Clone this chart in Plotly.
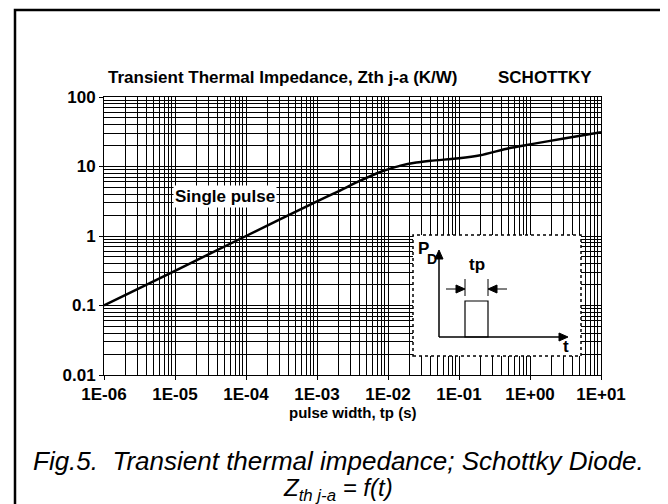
import plotly.graph_objects as go

# pulse width (s) and thermal impedance Zth j-a (K/W)
pulse_width = [1e-6, 1e-5, 1e-4, 1e-3, 2e-3, 4e-3, 7e-3, 1e-2, 1.5e-2, 2.5e-2,
               4e-2, 7e-2, 1e-1, 2e-1, 5e-1, 1.0, 3.0, 10.0]
zth = [0.1, 0.316, 1.0, 3.16, 4.4, 6.2, 8.0, 9.1, 10.3, 11.4,
       12.1, 12.7, 13.1, 14.5, 18.3, 20.8, 25.3, 31.0]

x_ticks = [1e-6, 1e-5, 1e-4, 1e-3, 1e-2, 1e-1, 1e0, 1e1]
x_labels = ["1E-06", "1E-05", "1E-04", "1E-03", "1E-02", "1E-01", "1E+00", "1E+01"]
y_ticks = [0.01, 0.1, 1, 10, 100]
y_labels = ["0.01", "0.1", "1", "10", "100"]

FONT = "Liberation Sans, Arial, sans-serif"
W, H = 668, 504
OFF = 8  # page offset of the figure inside the browser window
L, R, T, B = 104 - OFF, 601 - OFF, 97 - OFF, 375 - OFF  # plot area, figure pixels


def fx(px):
    # px measured on the page
    return (px - OFF - L) / (R - L)


def fy(py):
    return (B - (py - OFF)) / (B - T)


# minor grid positions (2..9 in every decade)
minor_x = [k * 10.0 ** e for e in range(-6, 1) for k in range(2, 10)]
minor_y = [k * 10.0 ** e for e in range(-2, 2) for k in range(2, 10)]

fig = go.Figure()
fig.add_trace(go.Scatter(x=pulse_width, y=zth, mode="lines",
                         line=dict(color="black", width=2.5, shape="spline", smoothing=0.6),
                         hoverinfo="x+y"))

axis_common = dict(
    type="log", showgrid=True, gridcolor="black", gridwidth=1,
    showline=True, linecolor="black", linewidth=1, mirror=True,
    ticks="outside", ticklen=4, tickcolor="black",
    tickfont=dict(family=FONT, size=17, color="black", weight="bold"),
    zeroline=False,
)
fig.update_xaxes(range=[-6, 1], tickvals=x_ticks, ticktext=x_labels,
                 minor=dict(tickvals=minor_x, showgrid=True, gridcolor="black", gridwidth=1, ticks=""),
                 **axis_common)
fig.update_yaxes(range=[-2, 2], tickvals=y_ticks, ticktext=y_labels,
                 minor=dict(tickvals=minor_y, showgrid=True, gridcolor="black", gridwidth=1, ticks=""),
                 **axis_common)

shapes = []
# outer frame (bottom edge lies below the picture)
shapes.append(dict(type="rect", xref="paper", yref="paper",
                   x0=fx(15), x1=fx(666), y0=fy(530), y1=fy(10),
                   line=dict(color="black", width=2.5), fillcolor="rgba(0,0,0,0)"))
# inset box
shapes.append(dict(type="rect", xref="paper", yref="paper",
                   x0=fx(413), x1=fx(581), y0=fy(356), y1=fy(235),
                   line=dict(color="black", width=1.5, dash="dot"), fillcolor="white"))


def seg(x0, y0, x1, y1, w=1.5):
    return dict(type="line", xref="paper", yref="paper",
                x0=fx(x0), y0=fy(y0), x1=fx(x1), y1=fy(y1),
                line=dict(color="black", width=w))


def tri(pts):
    path = "M " + " L ".join(f"{fx(a)},{fy(b)}" for a, b in pts) + " Z"
    return dict(type="path", xref="paper", yref="paper", path=path,
                fillcolor="black", line=dict(color="black", width=1))


# P_D and t axes
shapes.append(seg(439, 337, 439, 257))
shapes.append(tri([(439, 250), (435, 259), (443, 259)]))
shapes.append(seg(439, 337, 560, 337))
shapes.append(tri([(568, 337), (559, 333), (559, 341)]))
# pulse
shapes.append(dict(type="rect", xref="paper", yref="paper",
                   x0=fx(465), x1=fx(488), y0=fy(337), y1=fy(301),
                   line=dict(color="black", width=1.2)))
# tp markers
shapes.append(seg(465, 279, 465, 296, 1))
shapes.append(seg(488, 279, 488, 296, 1))
shapes.append(seg(446, 289, 457, 289, 1))
shapes.append(tri([(465, 289), (456, 285), (456, 293)]))
shapes.append(seg(507, 289, 497, 289, 1))
shapes.append(tri([(488, 289), (497, 285), (497, 293)]))

annotations = [
    dict(text="Transient Thermal Impedance, Zth j-a (K/W)", x=fx(106), y=fy(77),
         xanchor="left", font=dict(size=17, weight="bold")),
    dict(text="SCHOTTKY", x=fx(594), y=fy(77), xanchor="right", font=dict(size=17, weight="bold")),
    dict(text="Single pulse", x=fx(225), y=fy(196), bgcolor="white", borderpad=1,
         font=dict(size=17, weight="bold")),
    dict(text="pulse width, tp (s)", x=fx(353), y=fy(412), font=dict(size=15, weight="bold")),
    dict(text="<i>Fig.5.  Transient thermal impedance; Schottky Diode.</i>", x=fx(338), y=fy(461),
         font=dict(size=26)),
    dict(text="<i>Z<sub>th j-a</sub> = f(t)</i>", x=fx(338), y=fy(489), font=dict(size=24)),
    dict(text="tp", x=fx(477), y=fy(264), font=dict(size=17, weight="bold")),
    dict(text="P", x=fx(423), y=fy(249), font=dict(size=17, weight="bold")),
    dict(text="D", x=fx(432), y=fy(259), font=dict(size=14, weight="bold")),
    dict(text="t", x=fx(566), y=fy(346), font=dict(size=17, weight="bold")),
]
for a in annotations:
    a.update(xref="paper", yref="paper", showarrow=False, yanchor="middle")
    a.setdefault("xanchor", "center")

fig.update_layout(
    width=W, height=H,
    margin=dict(l=L, r=W - R, t=T, b=H - B),
    paper_bgcolor="white", plot_bgcolor="white",
    font=dict(family=FONT, color="black"),
    showlegend=False,
    shapes=shapes,
    annotations=annotations,
)

fig.write_html("out.html")
